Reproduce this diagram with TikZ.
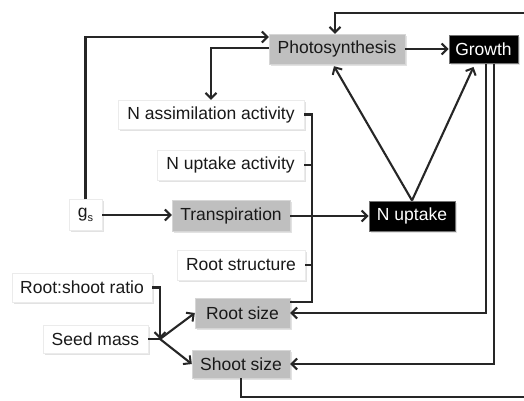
\documentclass[tikz,border=0pt]{standalone}
\usepackage{fontspec}
\setmainfont{Liberation Sans}
\usetikzlibrary{arrows.meta,shadows,calc}
\begin{document}
\begin{tikzpicture}[x=1pt,y=-1pt,
  font=\fontsize{17.5}{20}\selectfont,
  base/.style={rectangle,inner sep=0pt,anchor=center,
    drop shadow={shadow xshift=1.6pt,shadow yshift=-1.8pt,fill=black!22}},
  wbox/.style={base,fill=white,draw=black!8,text=black!90},
  gbox/.style={base,fill=black!25,draw=black!16,text=black!90},
  kbox/.style={base,fill=black,draw=black!55,line width=1pt,text=white},
  conn/.style={draw=black!85,line width=2.1pt},
  arr/.style={conn,-{Straight Barb[length=5.5pt,width=11pt,line width=2pt]}}
]
\useasboundingbox (0,0) rectangle (524,401);
\fill[white] (0,0) rectangle (524,401);

\node[gbox,minimum width=136pt,minimum height=30pt] (photo) at (337,49) {Photosynthesis};
\node[kbox,minimum width=69pt,minimum height=28pt] (growth) at (483.5,49.5) {Growth};
\node[wbox,minimum width=186pt,minimum height=29pt] (nassim) at (211,114.5) {N assimilation activity};
\node[wbox,minimum width=147pt,minimum height=30pt] (nupact) at (230.5,165) {N uptake activity};
\node[wbox,minimum width=33pt,minimum height=31pt] (gs) at (85.5,215) {g\raisebox{-0.35ex}{\fontsize{11}{12}\selectfont s}};
\node[gbox,minimum width=118pt,minimum height=31pt] (transp) at (231,216) {Transpiration};
\node[kbox,minimum width=86pt,minimum height=30pt] (nupt) at (412,216) {N uptake};
\node[wbox,minimum width=128pt,minimum height=30pt] (rootstruct) at (241,265) {Root structure};
\node[wbox,minimum width=140pt,minimum height=29pt] (rsratio) at (82,287.5) {Root:shoot ratio};
\node[wbox,minimum width=105pt,minimum height=28pt] (seed) at (95.5,339) {Seed mass};
\node[gbox,minimum width=95pt,minimum height=30pt] (rootsize) at (242.5,313) {Root size};
\node[gbox,minimum width=98pt,minimum height=28pt] (shootsize) at (241,364) {Shoot size};

\coordinate (topR) at (524,13);
\coordinate (botR) at (524,397);
\coordinate (j) at (160,339);

% feedback loop along the top and bottom
\draw[arr] (topR) -| ($(photo.north)+(-2,0)$);
\draw[conn] (shootsize.south) |- (botR);

% g_s connections
\draw[arr] (gs.north) |- ($(photo.west)+(0,-12)$);
\draw[arr] (gs.east) -- (gs.east -| transp.west);

% photosynthesis
\draw[arr] ($(photo.west)+(0,-1)$) -| (nassim.north);
\draw[arr] (photo.east) -- (photo.east -| growth.west);

% N uptake
\draw[arr] (nupt.north) -- ($(photo.south)+(-3,2)$);
\draw[arr] (nupt.north) -- ($(growth.south)+(-10,3)$);
\draw[arr] (transp.east) -- (nupt.west);

% growth to sizes
\draw[arr] ($(growth.south)+(2.5,0)$) |- (rootsize.east);
\draw[arr] ($(growth.south)+(10.5,0)$) |- (shootsize.east);

% bracket
\draw[conn] (nassim.east) -- ++(8,0) |- ($(rootsize.east)+(0,-11)$);
\draw[conn] (nupact.east) -- ++(8,0);
\draw[conn] (rootstruct.east) -- ++(7,0);

% seed mass junction
\draw[arr] (rsratio.east) -| (j);
\draw[conn] (seed.east) -- (j);
\draw[arr] (j) -- (rootsize.west);
\draw[arr] (j) -- (shootsize.west);
\end{tikzpicture}
\end{document}
